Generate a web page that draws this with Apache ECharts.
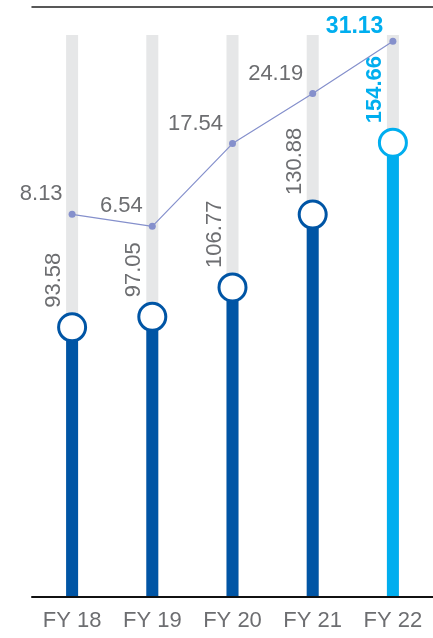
<!DOCTYPE html>
<html>
<head>
<meta charset="utf-8">
<script src="https://cdn.jsdelivr.net/npm/echarts@6/dist/echarts.min.js"></script>
<style>
html,body{margin:0;padding:0;background:#fff;}
#chart{width:433px;height:638px;}
</style>
</head>
<body>
<div id="chart"></div>
<script>
var categories = ['FY 18', 'FY 19', 'FY 20', 'FY 21', 'FY 22'];
var barValues = [93.58, 97.05, 106.77, 130.88, 154.66];
var lineValues = [8.13, 6.54, 17.54, 24.19, 31.13];

var DARK = '#0055a5';
var LIGHT = '#00aeef';
var GRAY_TEXT = '#6d6e71';
var LINE_COLOR = '#8590cc';
var FONT = 'Liberation Sans, Arial, sans-serif';

function isLast(i) { return i === categories.length - 1; }

var chart = echarts.init(document.getElementById('chart'), null, {renderer: 'canvas'});

var barData = barValues.map(function (v, i) {
  return { value: v, itemStyle: { color: isLast(i) ? LIGHT : DARK } };
});
var circleData = barValues.map(function (v, i) {
  return {
    value: v,
    itemStyle: { color: '#fff', borderColor: isLast(i) ? LIGHT : DARK, borderWidth: 3, opacity: 1 },
    label: isLast(i) ? { color: LIGHT, fontWeight: 'bold' } : {}
  };
});
var lineData = lineValues.map(function (v, i) {
  return {
    value: v,
    label: isLast(i) ? { color: LIGHT, fontWeight: 'bold', fontSize: 23, offset: [0, -15] } : {}
  };
});

chart.setOption({
  animation: false,
  grid: { left: 32, right: -10, top: 35, bottom: 41 },
  xAxis: [{
    type: 'category',
    data: categories,
    axisLine: { show: true, onZero: false, lineStyle: { color: '#111', width: 2 } },
    axisTick: { show: false },
    axisLabel: { color: GRAY_TEXT, fontSize: 22, margin: 13, fontFamily: FONT },
    z: 10
  }, {
    type: 'category',
    data: categories,
    position: 'top',
    offset: 28,
    axisLine: { show: true, onZero: false, lineStyle: { color: '#222', width: 1.5 } },
    axisTick: { show: false },
    axisLabel: { show: false }
  }],
  yAxis: [{
    type: 'value', min: 4.33, max: 190.3, show: false, splitLine: { show: false }
  }, {
    type: 'value', min: -42.74, max: 31.97, show: false, splitLine: { show: false }
  }],
  series: [{
    type: 'bar',
    data: barData,
    barWidth: 12,
    showBackground: true,
    backgroundStyle: { color: '#e6e7e8' },
    z: 2
  }, {
    type: 'scatter',
    data: circleData,
    symbol: 'circle',
    symbolSize: 27,
    z: 4,
    label: {
      show: true,
      position: 'top',
      distance: 4.5,
      rotate: 90,
      align: 'left',
      verticalAlign: 'middle',
      offset: [0, -18],
      color: GRAY_TEXT,
      fontSize: 22,
      fontFamily: FONT
    }
  }, {
    type: 'line',
    yAxisIndex: 1,
    data: lineData,
    symbol: 'circle',
    symbolSize: 7,
    lineStyle: { color: LINE_COLOR, width: 1.2 },
    itemStyle: { color: LINE_COLOR },
    z: 5,
    label: {
      show: true,
      position: 'left',
      distance: 6,
      offset: [0, -20],
      color: GRAY_TEXT,
      fontSize: 22,
      fontFamily: FONT
    }
  }]
});
</script>
</body>
</html>
